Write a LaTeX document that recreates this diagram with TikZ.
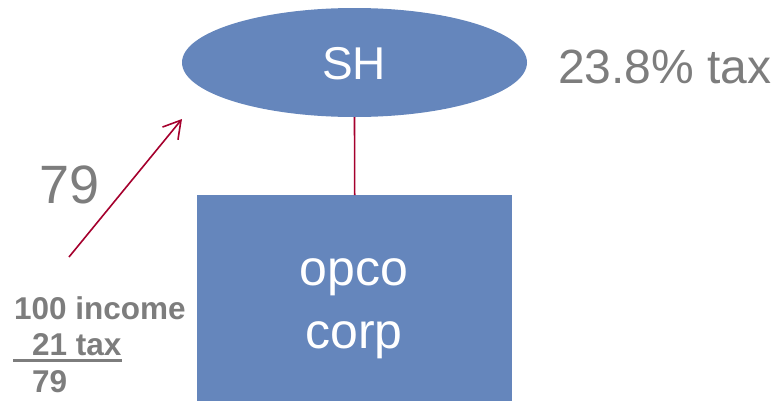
\documentclass[tikz,border=0pt]{standalone}
\usepackage{fontspec}
\setmainfont{Liberation Sans}
\usetikzlibrary{shapes.geometric,arrows.meta}
\definecolor{boxblue}{RGB}{101,134,188}
\definecolor{txtgray}{RGB}{125,125,125}
\definecolor{linered}{RGB}{165,0,45}
\tikzset{
  shape fill/.style={fill=boxblue, draw=none},
  conn/.style={draw=linered, line width=1.6pt},
  whitetext/.style={text=white, inner sep=0pt},
  graytext/.style={text=txtgray, inner sep=0pt},
}
\begin{document}
\begin{tikzpicture}[x=1pt,y=-1pt]
\useasboundingbox (0,0) rectangle (777,400);
\node[shape fill, ellipse, minimum width=345pt, minimum height=109pt, inner sep=0pt] (sh) at (354.5,62.5) {};
\node[whitetext, font=\fontsize{46}{50}\selectfont] (shlabel) at (354,64) {SH};
\node[shape fill, rectangle, minimum width=315pt, minimum height=206pt, inner sep=0pt, anchor=north west] (opco) at (197,195) {};
\node[whitetext, align=center, font=\fontsize{50}{63}\selectfont, anchor=base] (opcolabel) at (354,348) {opco\\corp};
\draw[conn] (sh.south) -- (opco.north);
\node[graytext, font=\fontsize{48}{52}\selectfont, anchor=base west] (tax) at (558,83) {23.8\% tax};
\node[graytext, font=\fontsize{54}{58}\selectfont, anchor=base west] (big79) at (39,203) {79};
\coordinate (arrstart) at (69,257);
\coordinate (arrend) at (182,119);
\draw[conn, -{Straight Barb[length=17pt,width=20pt,line width=1.6pt]}] (arrstart) -- (arrend);
\node[graytext, font=\bfseries\fontsize{31.5}{36.5}\selectfont, align=left, anchor=base west] (calc) at (13,392) {\hspace*{1pt}100 income\\\rlap{\rule[-6pt]{109pt}{2.6pt}}\hspace*{19pt}21 tax\\\hspace*{19pt}79};
\end{tikzpicture}
\end{document}
